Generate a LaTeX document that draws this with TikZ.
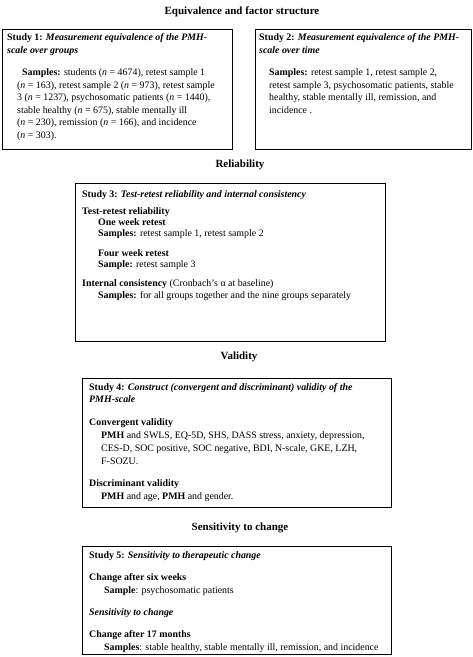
\documentclass[tikz,border=0pt]{standalone}
\usepackage{fontspec}
\setmainfont{Liberation Serif}
\usetikzlibrary{positioning}

\tikzset{
  heading/.style={font=\fontsize{11}{13}\selectfont\bfseries},
  studybox/.style={draw, line width=0.9pt, anchor=north west, inner sep=0pt},
  studytext/.style={anchor=north west, align=left, inner sep=0pt,
    font=\fontsize{9.9}{#1}\selectfont},
  studytext/.default=12.5
}
\newcommand{\studyhead}[2]{\textbf{Study #1: }\textbf{\textit{#2}}}

\begin{document}
\begin{tikzpicture}[x=1pt,y=-1pt]
  \useasboundingbox (0,0) rectangle (473,657);

  % equivalence and factor structure
  \node[heading] (hequiv) at (242,12) {Equivalence and factor structure};
  \node[studybox, minimum width=230, minimum height=120] (study1) at (2,29) {};
  \node[studytext] (text1) at (7,33.5) {%
    \studyhead{1}{Measurement equivalence of the PMH-}\\
    \textbf{\textit{scale over groups}}\\[10pt]
    \hspace*{15pt}\textbf{Samples:} students (\textit{n} = 4674), retest sample 1\\
    \hspace*{10pt}(\textit{n} = 163), retest sample 2 (\textit{n} = 973), retest sample\\
    \hspace*{10pt}3 (\textit{n} = 1237), psychosomatic patients (\textit{n} = 1440),\\
    \hspace*{10pt}stable healthy (\textit{n} = 675), stable mentally ill\\
    \hspace*{10pt}(\textit{n} = 230), remission (\textit{n} = 166), and incidence\\
    \hspace*{10pt}(\textit{n} = 303).};
  \node[studybox, minimum width=216, minimum height=120] (study2) at (255,29) {};
  \node[studytext] (text2) at (259,33.5) {%
    \studyhead{2}{Measurement equivalence of the PMH-}\\
    \textbf{\textit{scale over time}}\\[10pt]
    \hspace*{10pt}\textbf{Samples:} retest sample 1, retest sample 2,\\
    \hspace*{10pt}retest sample 3, psychosomatic patients, stable\\
    \hspace*{10pt}healthy, stable mentally ill, remission, and\\
    \hspace*{10pt}incidence .};

  % reliability
  \node[heading] (hrel) at (240,165) {Reliability};
  \node[studybox, minimum width=310, minimum height=158] (study3) at (75,183) {};
  \node[studytext=11.3] (text3) at (82,190) {%
    \studyhead{3}{Test-retest reliability and internal consistency}\\[6pt]
    \textbf{Test-retest reliability}\\
    \hspace*{16pt}\textbf{One week retest}\\
    \hspace*{16pt}\textbf{Samples:} retest sample 1, retest sample 2\\[8pt]
    \hspace*{16pt}\textbf{Four week retest}\\
    \hspace*{16pt}\textbf{Sample:} retest sample 3\\[8pt]
    \textbf{Internal consistency} (Cronbach’s α at baseline)\\
    \hspace*{16pt}\textbf{Samples:} for all groups together and the nine groups separately};

  % validity
  \node[heading] (hval) at (239,357) {Validity};
  \node[studybox, minimum width=309, minimum height=129] (study4) at (82,378) {};
  \node[studytext=12.8] (text4) at (89,383) {%
    \studyhead{4}{Construct (convergent and discriminant) validity of the}\\
    \textbf{\textit{PMH-scale}}\\[10pt]
    \textbf{Convergent validity}\\
    \hspace*{12pt}\textbf{PMH} and SWLS, EQ-5D, SHS, DASS stress, anxiety, depression,\\
    \hspace*{12pt}CES-D, SOC positive, SOC negative, BDI, N-scale, GKE, LZH,\\
    \hspace*{12pt}F-SOZU.\\[10pt]
    \textbf{Discriminant validity}\\
    \hspace*{12pt}\textbf{PMH} and age, \textbf{PMH} and gender.};

  % sensitivity to change
  \node[heading] (hsens) at (240,528) {Sensitivity to change};
  \node[studybox, minimum width=309, minimum height=108] (study5) at (82,546) {};
  \node[studytext=13] (text5) at (89,551.5) {%
    \studyhead{5}{Sensitivity to therapeutic change}\\[9pt]
    \textbf{Change after six weeks}\\
    \hspace*{15pt}\textbf{Sample}: psychosomatic patients\\[9pt]
    \textbf{\textit{Sensitivity to change}}\\[9pt]
    \textbf{Change after 17 months}\\
    \hspace*{15pt}\textbf{Samples}: stable healthy, stable mentally ill, remission, and incidence};
\end{tikzpicture}
\end{document}
